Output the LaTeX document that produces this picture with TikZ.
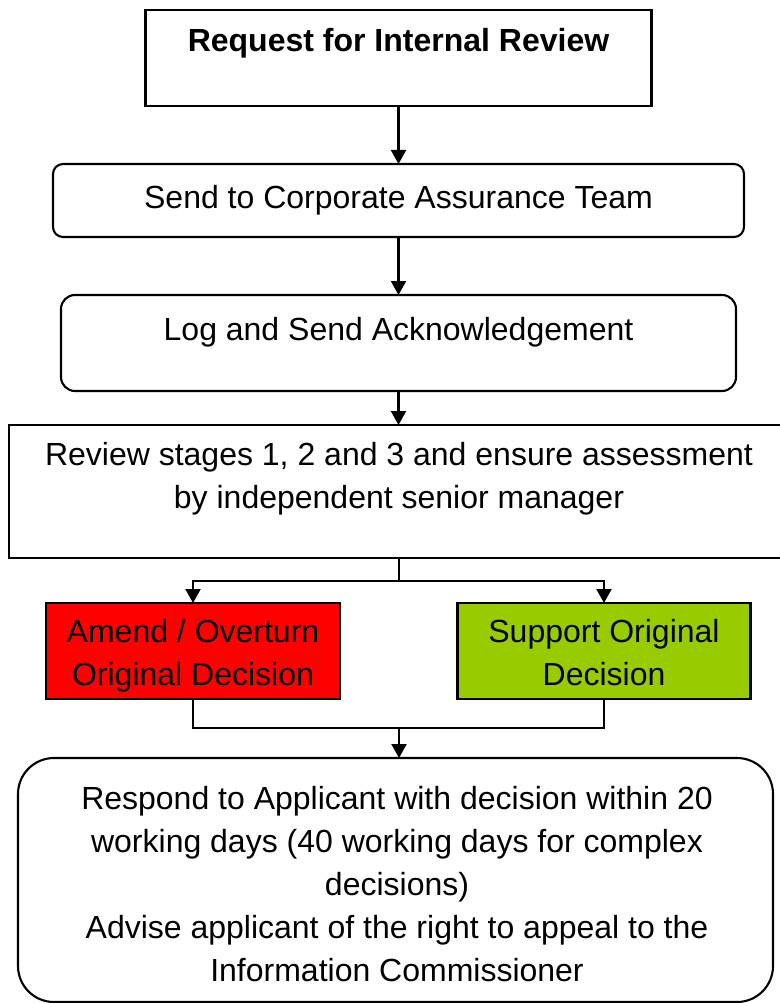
\documentclass[tikz,border=0pt]{standalone}
\usepackage{fontspec}
\setmainfont{Liberation Sans}
\usetikzlibrary{arrows.meta}
\definecolor{amendred}{HTML}{FF0000}
\definecolor{supportgreen}{HTML}{99CC00}

\begin{document}
\begin{tikzpicture}[x=1pt,y=-1pt,
  box/.style={draw=black, line width=2.1pt, inner sep=0pt, outer sep=0pt, anchor=center},
  % multi-line labels sit on the baseline of their last line
  lbl/.style={font=\fontsize{32}{43}\selectfont, align=center, inner sep=0pt, anchor=base},
  flow/.style={draw=black, line width=2.1pt, -{Triangle[length=14pt,width=15pt]}},
  link/.style={draw=black, line width=2.1pt}
]
\useasboundingbox (0,0) rectangle (779,1003);

% process boxes
\node[box, minimum width=506pt, minimum height=96pt] (req) at (398.5,58) {};
\node[lbl, font=\bfseries\fontsize{32}{43}\selectfont] (req-t) at (398.5,51.5) {Request for Internal Review};

\node[box, rounded corners=10pt, minimum width=691pt, minimum height=73pt] (send) at (398.5,200.5) {};
\node[lbl] (send-t) at (398.5,208) {Send to Corporate Assurance Team};

\node[box, rounded corners=14pt, minimum width=675pt, minimum height=96pt] (ack) at (398.5,343) {};
\node[lbl] (ack-t) at (398.5,340) {Log and Send Acknowledgement};

\node[box, minimum width=780pt, minimum height=133pt] (rev) at (399,491.5) {};
\node[lbl] (rev-t) at (399,508) {Review stages 1, 2 and 3 and ensure assessment\\by independent senior manager};

\node[box, fill=amendred, minimum width=294pt, minimum height=96pt] (amend) at (193,651) {};
\node[lbl] (amend-t) at (193,685) {Amend / Overturn\\Original Decision};

\node[box, fill=supportgreen, minimum width=293pt, minimum height=96pt] (support) at (604,651) {};
\node[lbl] (support-t) at (604,685) {Support Original\\Decision};

\node[box, rounded corners=36pt, minimum width=755pt, minimum height=244pt] (resp) at (395.5,880) {};
\node[lbl] (resp-t) at (397,981.5) {Respond to Applicant with decision within 20\\working days (40 working days for complex\\decisions)\\Advise applicant of the right to appeal to the\\Information Commissioner};

% connectors
\coordinate (split) at (399,581);
\coordinate (merge) at (399,728);
\draw[flow] (req.south) -- (req.south |- send.north);
\draw[flow] (send.south) -- (send.south |- ack.north);
\draw[flow] (ack.south) -- (ack.south |- rev.north);
\draw[link] (rev.south) -- (split);
\draw[flow] (split) -| (amend.north);
\draw[flow] (split) -| (support.north);
\draw[link] (amend.south) |- (merge) -| (support.south);
\draw[flow] (merge) -- (merge |- resp.north);
\end{tikzpicture}
\end{document}
